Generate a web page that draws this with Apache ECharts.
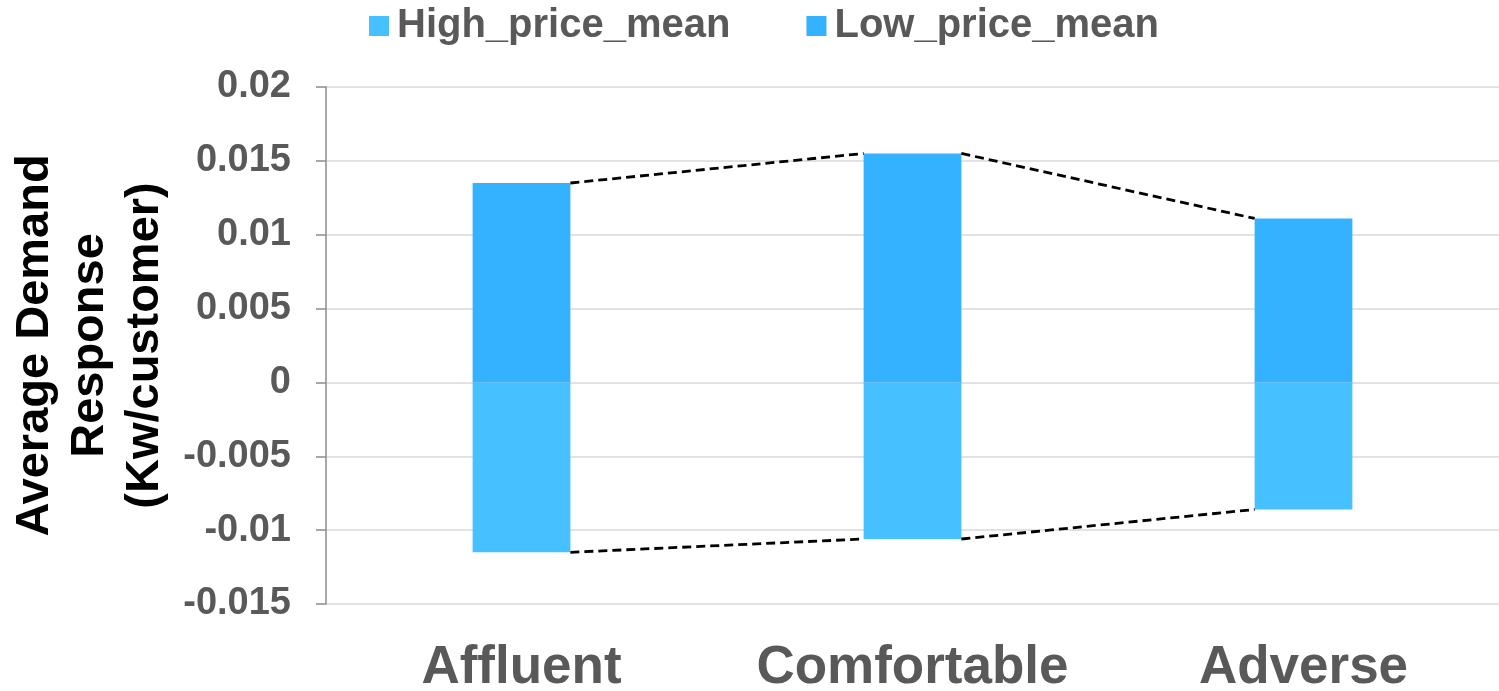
<!DOCTYPE html>
<html>
<head>
<meta charset="utf-8">
<script src="https://cdn.jsdelivr.net/npm/echarts@6/dist/echarts.min.js"></script>
<style>
  html, body { margin: 0; padding: 0; background: #ffffff; }
  #chart { width: 1499px; height: 691px; }
</style>
</head>
<body>
<div id="chart"></div>
<script>
// Average demand response by customer segment
const categories = ['Affluent', 'Comfortable', 'Adverse'];
const highPriceMean = [-0.0115, -0.0106, -0.0086];
const lowPriceMean = [0.0135, 0.0155, 0.0111];
const yTicks = { min: -0.015, max: 0.02, step: 0.005 };

const FONT = '"Liberation Sans", Arial, sans-serif';
const TEXT = '#595959';
const BAR_FRACTION = 0.25;

// Segment pairs for the dashed series lines joining neighbouring bar ends
function seriesLinePairs(values) {
  const out = [];
  for (let i = 0; i < values.length - 1; i++) out.push([i, values[i], values[i + 1]]);
  return out;
}

function renderSeriesLine(params, api) {
  const i = api.value(0);
  const a = api.coord([i, api.value(1)]);
  const b = api.coord([i + 1, api.value(2)]);
  const half = api.size([1, 0])[0] * BAR_FRACTION / 2;
  return {
    type: 'line',
    shape: { x1: a[0] + half, y1: a[1], x2: b[0] - half, y2: b[1] },
    style: { stroke: '#000000', lineWidth: 2.8, lineDash: [9, 5] },
    silent: true
  };
}

const chart = echarts.init(document.getElementById('chart'), null, { renderer: 'canvas' });
chart.setOption({
  animation: false,
  textStyle: { fontFamily: FONT },
  legend: {
    top: 1,
    left: 364,
    itemWidth: 20,
    itemHeight: 20,
    itemGap: 76,
    icon: 'rect',
    data: ['High_price_mean', 'Low_price_mean'],
    textStyle: { fontFamily: FONT, fontSize: 40, fontWeight: 'bold', color: TEXT, padding: [0, 0, 0, 3] }
  },
  grid: { left: 326, right: 0, top: 87, bottom: 87, containLabel: false, outerBoundsMode: 'none' },
  xAxis: {
    type: 'category',
    data: categories,
    axisLine: { show: false },
    axisTick: { show: false },
    axisLabel: {
      interval: 0,
      fontFamily: FONT, fontSize: 53, fontWeight: 'bold', color: TEXT,
      margin: 38, lineHeight: 53
    }
  },
  yAxis: {
    type: 'value',
    min: yTicks.min,
    max: yTicks.max,
    interval: yTicks.step,
    name: 'Average Demand\nResponse\n(Kw/customer)',
    nameLocation: 'middle',
    nameGap: 148,
    nameTextStyle: {
      fontFamily: FONT, fontSize: 47, fontWeight: 'bold', color: '#000000',
      lineHeight: 55, align: 'center'
    },
    axisLine: { show: true, lineStyle: { color: '#8c8c8c', width: 1.5 } },
    axisTick: { show: true, inside: false, length: 10, lineStyle: { color: '#8c8c8c', width: 1.5 } },
    splitLine: { show: true, lineStyle: { color: '#d9d9d9', width: 1.5 } },
    axisLabel: {
      fontFamily: FONT, fontSize: 38, fontWeight: 'bold', color: TEXT, margin: 35,
      formatter: v => String(Number(v.toFixed(3)))
    }
  },
  series: [
    {
      name: 'High_price_mean',
      type: 'bar',
      stack: 'dr',
      barWidth: (BAR_FRACTION * 100) + '%',
      itemStyle: { color: '#46C0FF' },
      data: highPriceMean
    },
    {
      name: 'Low_price_mean',
      type: 'bar',
      stack: 'dr',
      barWidth: (BAR_FRACTION * 100) + '%',
      itemStyle: { color: '#35B2FF' },
      data: lowPriceMean
    },
    {
      type: 'custom',
      renderItem: renderSeriesLine,
      encode: { x: 0, y: [1, 2] },
      data: seriesLinePairs(lowPriceMean),
      z: 5
    },
    {
      type: 'custom',
      renderItem: renderSeriesLine,
      encode: { x: 0, y: [1, 2] },
      data: seriesLinePairs(highPriceMean),
      z: 5
    }
  ]
});
</script>
</body>
</html>
